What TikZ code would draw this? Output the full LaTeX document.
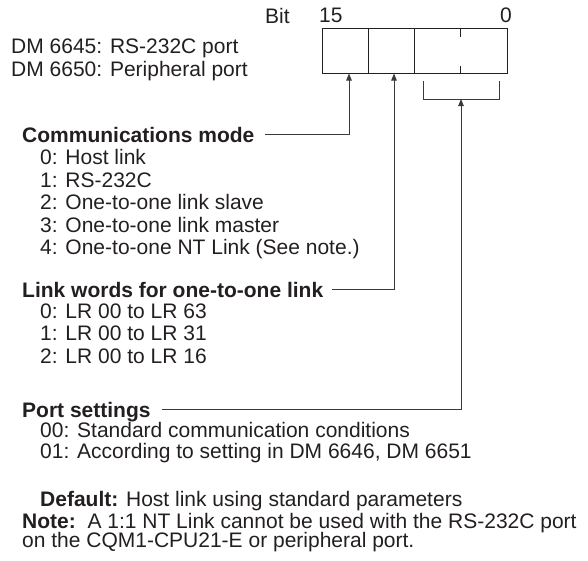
\documentclass[tikz,border=0pt]{standalone}
\usepackage{fontspec}
\setmainfont{Liberation Sans}
\usetikzlibrary{arrows.meta,positioning}
\definecolor{dmink}{HTML}{231F20}
\definecolor{dmline}{HTML}{3A3A3A}
\tikzset{
  txt/.style={anchor=base west, inner sep=0pt, font=\fontsize{21}{23}\selectfont, text=dmink},
  hd/.style={txt, font=\fontsize{21}{23}\selectfont\bfseries, text height=15pt, text depth=0pt},
  fld/.style={draw=dmink, line width=1pt, minimum height=45pt, inner sep=0pt},
  arr/.style={-{Triangle[length=7pt, width=5.5pt]}, line width=0.9pt, color=dmline},
  brk/.style={line width=0.9pt, color=dmline},
}

\begin{document}
\begin{tikzpicture}[x=1pt, y=-1pt]
    \useasboundingbox (0,0) rectangle (588,560);
    % the word and its fields
    \node[txt] (bit) at (265,23) {Bit};
    \node[txt] (b15) at (319,22) {15};
    \node[txt] (b0) at (500,22) {0};
    \node[fld, minimum width=46pt] (f1) at (345,50.5) {};
    \node[fld, minimum width=46pt] (f2) at (391,50.5) {};
    \node[fld, minimum width=93pt] (f3) at (460.5,50.5) {};
    \draw[draw=dmink, line width=1pt] (f3.north) -- ++(0,9);
    \draw[draw=dmink, line width=1pt] (f3.south) -- ++(0,-8);
    \node[txt] (dm1) at (11,53) {DM 6645: RS-232C port};
    \node[txt] (dm2) at (11,76) {DM 6650: Peripheral port};
    % bracket under the last two digits
    \coordinate (bl) at (423,81);
    \coordinate (br) at (499,81);
    \coordinate (bm) at (461,99);
    \draw[brk] (bl) -- (bl |- bm) -- (br |- bm) -- (br);
    % communications mode
    \node[hd] (cm) at (22,142) {Communications mode};
    \node[txt] (cm0) at (40,164) {0: Host link};
    \node[txt] (cm1) at (40,187) {1: RS-232C};
    \node[txt] (cm2) at (40,209) {2: One-to-one link slave};
    \node[txt] (cm3) at (40,232) {3: One-to-one link master};
    \node[txt] (cm4) at (40,254) {4: One-to-one NT Link (See note.)};
    % link words
    \node[hd] (lw) at (22,297) {Link words for one-to-one link};
    \node[txt] (lw0) at (40,318) {0: LR 00 to LR 63};
    \node[txt] (lw1) at (40,340) {1: LR 00 to LR 31};
    \node[txt] (lw2) at (40,363) {2: LR 00 to LR 16};
    % port settings
    \node[hd] (ps) at (22,417) {Port settings};
    \node[txt] (ps0) at (40,437) {00: Standard communication conditions};
    \node[txt] (ps1) at (40,458) {01: According to setting in DM 6646, DM 6651};
    \node[txt] (dflt) at (40,506) {\textbf{Default:} Host link using standard parameters};
    \node[txt] (note) at (22,528) {\textbf{Note:}\ \ A 1:1 NT Link cannot be used with the RS-232C port};
    \node[txt] (note2) at (22,547) {on the CQM1-CPU21-E or peripheral port.};
    % connectors
    \draw[arr] ([xshift=10pt]cm.east) -| ([xshift=4pt]f1.south);
    \draw[arr] ([xshift=9pt]lw.east) -| ([xshift=3pt]f2.south);
    \draw[arr] ([xshift=11pt]ps.east) -| (bm);
\end{tikzpicture}
\end{document}
